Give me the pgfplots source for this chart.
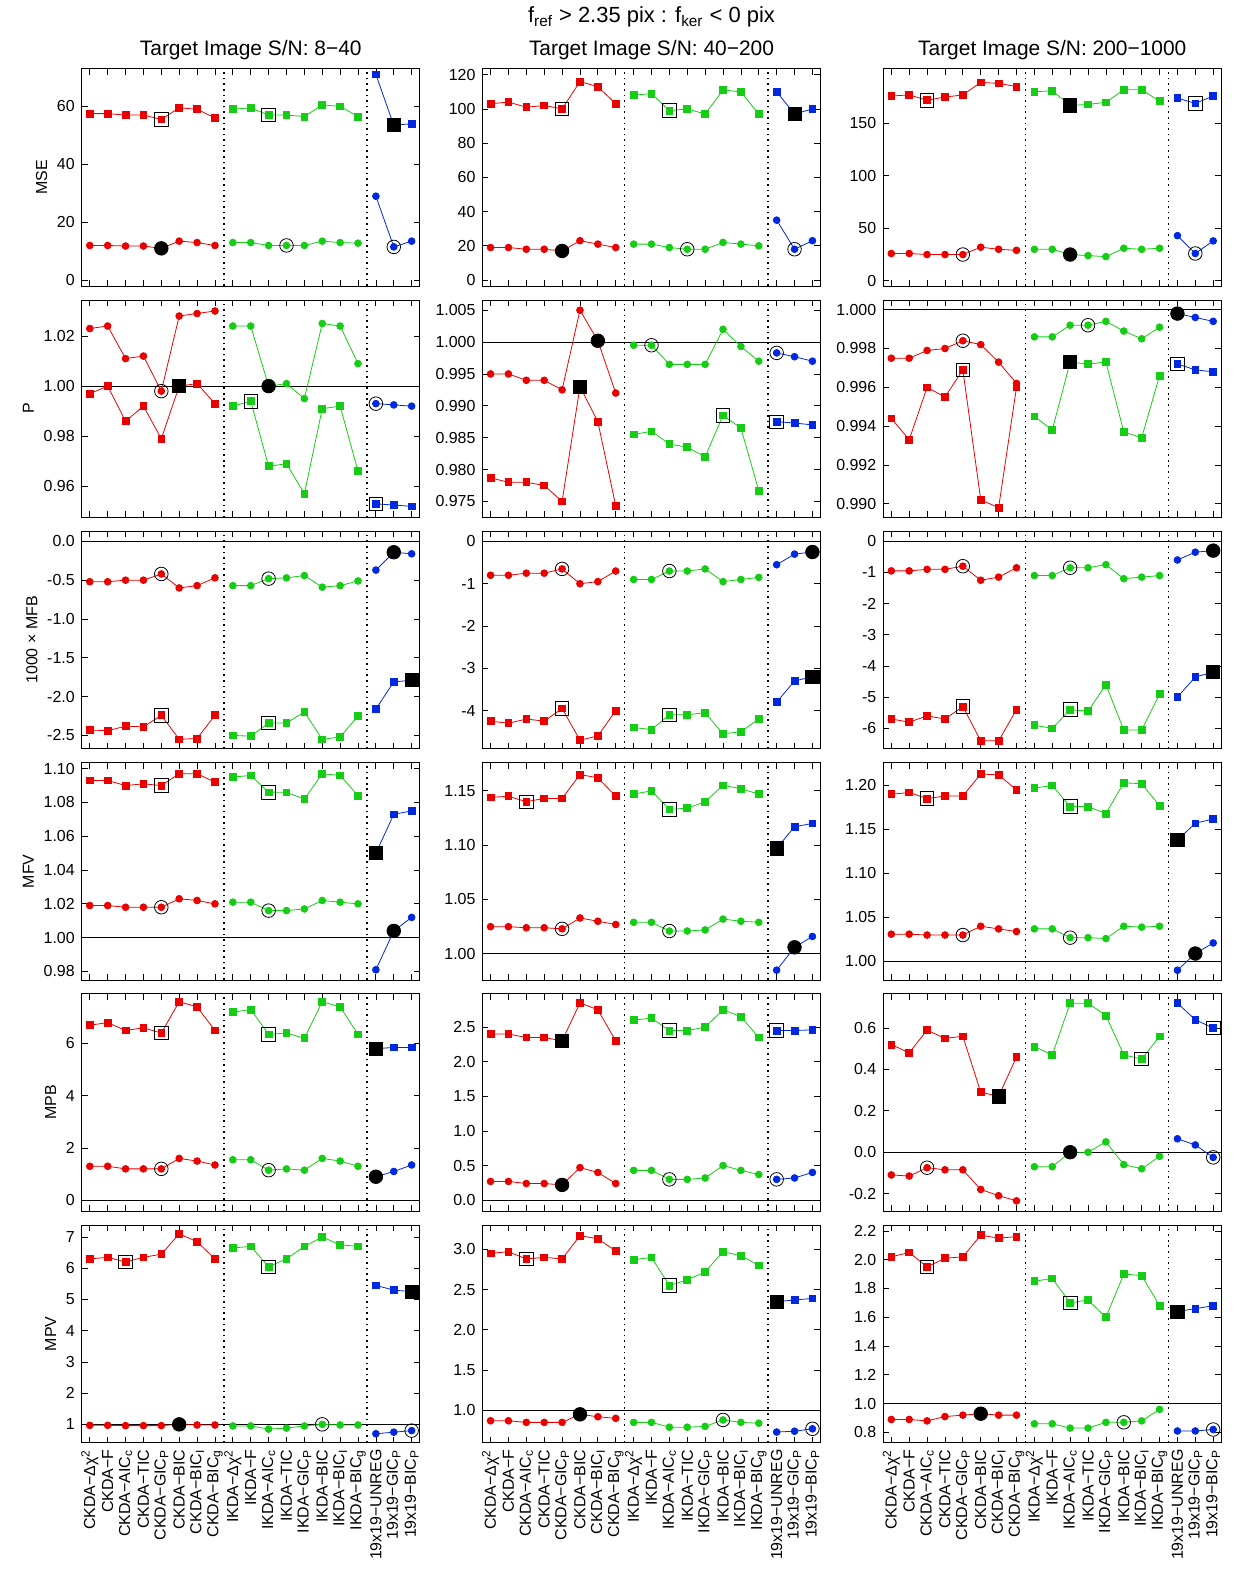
\documentclass[border=0pt]{standalone}
\usepackage{pgfplots}
\pgfplotsset{compat=1.18}
\usepackage{pgfplotstable}
\usepgfplotslibrary{groupplots}
\usepackage{fontspec}
\setmainfont{Liberation Sans}
\definecolor{cR}{RGB}{235,0,0}
\definecolor{cG}{RGB}{20,205,20}
\definecolor{cB}{RGB}{0,40,225}
\pgfplotsset{every axis/.append style={/pgf/number format/assume math mode=true},
 nf/.style={yticklabel style={/pgf/number format/.cd,fixed,fixed zerofill,precision=#1}}}
\newcommand\grp[1]{%
\addplot[cR,mark=square*,mark size=1.7pt,restrict x to domain=0:7] table[x expr=\coordindex,y=s]{#1};
\addplot[cR,mark=*,mark size=1.7pt,restrict x to domain=0:7] table[x expr=\coordindex,y=c]{#1};
\addplot[cG,mark=square*,mark size=1.7pt,restrict x to domain=8:15] table[x expr=\coordindex,y=s]{#1};
\addplot[cG,mark=*,mark size=1.7pt,restrict x to domain=8:15] table[x expr=\coordindex,y=c]{#1};
\addplot[cB,mark=square*,mark size=1.7pt,restrict x to domain=16:18] table[x expr=\coordindex,y=s]{#1};
\addplot[cB,mark=*,mark size=1.7pt,restrict x to domain=16:18] table[x expr=\coordindex,y=c]{#1};
\draw[dotted,thick] ({axis cs:7.5,0}|-{rel axis cs:0,0}) -- ({axis cs:7.5,0}|-{rel axis cs:0,1});
\draw[dotted,thick] ({axis cs:15.5,0}|-{rel axis cs:0,0}) -- ({axis cs:15.5,0}|-{rel axis cs:0,1});}
\newcommand\os[2]{\addplot[black,only marks,mark=square,mark size=3.4pt,mark options={thin}] coordinates {(#1,#2)};}
\newcommand\oc[2]{\addplot[black,only marks,mark=o,mark size=3.4pt,mark options={thin}] coordinates {(#1,#2)};}
\newcommand\bs[2]{\addplot[black,only marks,mark=square*,mark size=3.3pt] coordinates {(#1,#2)};}
\newcommand\bc[2]{\addplot[black,only marks,mark=*,mark size=3.4pt] coordinates {(#1,#2)};}
\newcommand\rl[1]{\draw[black] ({rel axis cs:0,0}|-{axis cs:0,#1}) -- ({rel axis cs:1,0}|-{axis cs:0,#1});}

\pgfplotstableread[row sep=\\]{s c\\57.5 12\\57.5 12\\57 11.8\\57 11.8\\55.5 11\\59.5 13.5\\59 13\\56 12\\59 13\\59.5 13\\57 12\\57 12\\56.5 12\\60.5 13.5\\60 13\\56.5 12.8\\71 29\\53.5 11.5\\54 13.5\\}\tAA
\pgfplotstableread[row sep=\\]{s c\\103 19\\104 19\\101 18\\102 18\\100 17\\116 23\\113 21\\103 19\\108 21\\109 21\\99 19\\100 18\\97 18\\111 22\\110 21\\97 20\\110 35\\97 18\\100 23\\}\tAB
\pgfplotstableread[row sep=\\]{s c\\176 26\\177 26\\172 25\\175 25\\177 25\\189 32\\188 30\\185 29\\180 30\\181 30\\167 25\\168 24\\170 23\\182 31\\182 30\\171 31\\174 43\\169 26\\176 38\\}\tAC
\pgfplotstableread[row sep=\\]{s c\\0.997 1.023\\1.000 1.024\\0.986 1.011\\0.992 1.012\\0.979 0.998\\1.000 1.028\\1.001 1.029\\0.993 1.030\\0.992 1.024\\0.994 1.024\\0.968 1.000\\0.969 1.001\\0.957 0.995\\0.991 1.025\\0.992 1.024\\0.966 1.009\\0.953 0.993\\0.9525 0.9925\\0.952 0.992\\}\tBA
\pgfplotstableread[row sep=\\]{s c\\0.9787 0.995\\0.978 0.995\\0.978 0.994\\0.9775 0.994\\0.975 0.9925\\0.993 1.005\\0.9875 1.0002\\0.9743 0.992\\0.9855 0.9995\\0.986 0.9995\\0.984 0.9965\\0.9835 0.9965\\0.982 0.9965\\0.9885 1.002\\0.9865 0.9993\\0.9767 0.997\\0.9875 0.9983\\0.9873 0.9977\\0.987 0.997\\}\tBB
\pgfplotstableread[row sep=\\]{s c\\0.9944 0.9975\\0.9933 0.9975\\0.996 0.9979\\0.9955 0.998\\0.9969 0.9984\\0.9902 0.9982\\0.9898 0.9973\\0.996 0.9962\\0.9945 0.9986\\0.9938 0.9986\\0.9973 0.9992\\0.9972 0.9992\\0.9973 0.9994\\0.9937 0.9989\\0.9934 0.9985\\0.9966 0.9991\\0.9972 0.9998\\0.9969 0.9996\\0.9968 0.9994\\}\tBC
\pgfplotstableread[row sep=\\]{s c\\-2.43 -0.52\\-2.44 -0.52\\-2.38 -0.5\\-2.39 -0.5\\-2.24 -0.42\\-2.55 -0.6\\-2.54 -0.57\\-2.24 -0.47\\-2.5 -0.57\\-2.51 -0.57\\-2.34 -0.48\\-2.34 -0.47\\-2.2 -0.44\\-2.55 -0.59\\-2.52 -0.57\\-2.25 -0.51\\-2.16 -0.37\\-1.81 -0.14\\-1.79 -0.16\\}\tCA
\pgfplotstableread[row sep=\\]{s c\\-4.25 -0.8\\-4.3 -0.8\\-4.2 -0.75\\-4.25 -0.75\\-3.95 -0.65\\-4.7 -1.0\\-4.6 -0.95\\-4.0 -0.7\\-4.4 -0.9\\-4.45 -0.9\\-4.1 -0.7\\-4.1 -0.7\\-4.05 -0.65\\-4.55 -0.95\\-4.5 -0.9\\-4.2 -0.85\\-3.8 -0.55\\-3.3 -0.3\\-3.2 -0.25\\}\tCB
\pgfplotstableread[row sep=\\]{s c\\-5.7 -0.95\\-5.8 -0.95\\-5.6 -0.9\\-5.7 -0.9\\-5.3 -0.8\\-6.4 -1.25\\-6.4 -1.15\\-5.4 -0.85\\-5.9 -1.1\\-6.0 -1.1\\-5.4 -0.85\\-5.45 -0.85\\-4.6 -0.75\\-6.05 -1.2\\-6.05 -1.15\\-4.9 -1.1\\-5.0 -0.6\\-4.35 -0.35\\-4.2 -0.3\\}\tCC
\pgfplotstableread[row sep=\\]{s c\\1.093 1.019\\1.093 1.019\\1.09 1.018\\1.091 1.018\\1.09 1.018\\1.097 1.023\\1.097 1.022\\1.092 1.02\\1.095 1.021\\1.096 1.021\\1.086 1.016\\1.086 1.016\\1.082 1.017\\1.097 1.022\\1.096 1.021\\1.084 1.02\\1.05 0.981\\1.073 1.004\\1.075 1.012\\}\tDA
\pgfplotstableread[row sep=\\]{s c\\1.144 1.025\\1.145 1.025\\1.14 1.024\\1.143 1.024\\1.143 1.023\\1.165 1.033\\1.162 1.03\\1.145 1.027\\1.147 1.029\\1.15 1.029\\1.133 1.021\\1.134 1.021\\1.14 1.022\\1.155 1.032\\1.152 1.03\\1.147 1.029\\1.097 0.985\\1.117 1.006\\1.12 1.016\\}\tDB
\pgfplotstableread[row sep=\\]{s c\\1.19 1.031\\1.192 1.031\\1.185 1.03\\1.188 1.03\\1.188 1.03\\1.213 1.04\\1.212 1.037\\1.195 1.034\\1.197 1.037\\1.2 1.037\\1.176 1.027\\1.176 1.027\\1.168 1.026\\1.203 1.04\\1.202 1.039\\1.177 1.04\\1.138 0.99\\1.157 1.009\\1.162 1.021\\}\tDC
\pgfplotstableread[row sep=\\]{s c\\6.7 1.3\\6.8 1.3\\6.5 1.2\\6.6 1.2\\6.4 1.2\\7.6 1.6\\7.4 1.5\\6.5 1.35\\7.2 1.55\\7.3 1.55\\6.35 1.15\\6.4 1.2\\6.2 1.15\\7.6 1.6\\7.4 1.5\\6.35 1.3\\5.8 0.9\\5.85 1.1\\5.85 1.35\\}\tEA
\pgfplotstableread[row sep=\\]{s c\\2.4 0.27\\2.4 0.27\\2.35 0.24\\2.35 0.24\\2.3 0.22\\2.85 0.47\\2.75 0.4\\2.3 0.24\\2.6 0.43\\2.63 0.43\\2.45 0.3\\2.45 0.3\\2.5 0.32\\2.75 0.5\\2.65 0.43\\2.35 0.37\\2.45 0.3\\2.45 0.32\\2.46 0.4\\}\tEB
\pgfplotstableread[row sep=\\]{s c\\0.52 -0.11\\0.48 -0.115\\0.59 -0.075\\0.55 -0.085\\0.56 -0.085\\0.29 -0.18\\0.27 -0.21\\0.46 -0.235\\0.51 -0.07\\0.47 -0.07\\0.72 0.0\\0.72 0.0\\0.66 0.05\\0.47 -0.06\\0.45 -0.08\\0.56 -0.02\\0.72 0.065\\0.64 0.035\\0.6 -0.025\\}\tEC
\pgfplotstableread[row sep=\\]{s c\\6.3 0.97\\6.35 0.97\\6.2 0.96\\6.35 0.96\\6.45 0.96\\7.1 1.0\\6.85 0.98\\6.3 0.98\\6.65 0.95\\6.7 0.95\\6.05 0.85\\6.3 0.88\\6.7 0.95\\7.0 1.0\\6.75 0.98\\6.7 0.98\\5.45 0.7\\5.3 0.75\\5.25 0.8\\}\tFA
\pgfplotstableread[row sep=\\]{s c\\2.95 0.87\\2.97 0.87\\2.88 0.85\\2.9 0.85\\2.88 0.85\\3.17 0.95\\3.13 0.92\\2.98 0.9\\2.87 0.85\\2.9 0.85\\2.55 0.79\\2.62 0.79\\2.72 0.8\\2.97 0.88\\2.92 0.85\\2.8 0.84\\2.35 0.73\\2.37 0.74\\2.39 0.77\\}\tFB
\pgfplotstableread[row sep=\\]{s c\\2.02 0.89\\2.05 0.89\\1.95 0.88\\2.01 0.91\\2.02 0.92\\2.17 0.93\\2.15 0.92\\2.16 0.92\\1.85 0.86\\1.87 0.86\\1.7 0.83\\1.72 0.83\\1.6 0.87\\1.9 0.87\\1.89 0.88\\1.68 0.96\\1.64 0.81\\1.66 0.81\\1.68 0.82\\}\tFC

\begin{document}
\begin{tikzpicture}
\begin{groupplot}[
 group style={group size=3 by 6, horizontal sep=31.5pt, vertical sep=7pt, xticklabels at=edge bottom},
 width=169.5pt, height=109pt, scale only axis,
 xmin=-0.45, xmax=18.45, xtick={0,...,18},
 xticklabels={CKDA−Δχ\textsuperscript{2},CKDA−F,CKDA−AIC\textsubscript{c},CKDA−TIC,CKDA−GIC\textsubscript{P},CKDA−BIC,CKDA−BIC\textsubscript{I},CKDA−BIC\textsubscript{g},IKDA−Δχ\textsuperscript{2},IKDA−F,IKDA−AIC\textsubscript{c},IKDA−TIC,IKDA−GIC\textsubscript{P},IKDA−BIC,IKDA−BIC\textsubscript{I},IKDA−BIC\textsubscript{g},19x19−UNREG,19x19−GIC\textsubscript{P},19x19−BIC\textsubscript{P}},
 xticklabel style={rotate=90,anchor=east,font=\fontsize{8}{10}\selectfont},
 yticklabel style={font=\fontsize{8}{10}\selectfont},
 tick align=inside, major tick length=3pt, tick style={black,thin},
 every axis plot/.append style={thin,mark options={solid}},
 title style={font=\fontsize{10.5}{12}\selectfont, yshift=-5pt},
 ylabel style={font=\fontsize{8}{10}\selectfont, yshift=-2pt},
]
\nextgroupplot[ymin=-2,ymax=73,ytick={0,20,40,60},ylabel=MSE,title={Target Image S/N: 8−40}]
\grp{\tAA}\os{4}{55.5}\bc{4}{11}\os{10}{57}\oc{11}{12}\bs{17}{53.5}\oc{17}{11.5}
\nextgroupplot[ymin=-3.5,ymax=123.5,ytick={0,20,...,120},title={Target Image S/N: 40−200}]
\grp{\tAB}\os{4}{100}\bc{4}{17}\os{10}{99}\oc{11}{18}\bs{17}{97}\oc{17}{18}
\nextgroupplot[ymin=-5,ymax=202,ytick={0,50,100,150},title={Target Image S/N: 200−1000}]
\grp{\tAC}\os{2}{172}\oc{4}{25}\bs{10}{167}\bc{10}{25}\os{17}{169}\oc{17}{26}

\nextgroupplot[ymin=0.9476,ymax=1.0344,ytick={0.96,0.98,1.00,1.02},nf=2,ylabel=P]
\rl{1}\grp{\tBA}\oc{4}{0.998}\bs{5}{1.000}\os{9}{0.994}\bc{10}{1.000}\oc{16}{0.993}\os{16}{0.953}
\nextgroupplot[ymin=0.9725,ymax=1.0066,ytick={0.975,0.980,0.985,0.990,0.995,1.000,1.005},nf=3]
\rl{1}\grp{\tBB}\bs{5}{0.993}\bc{6}{1.0002}\oc{9}{0.9995}\os{13}{0.9885}\oc{16}{0.9983}\os{16}{0.9875}
\nextgroupplot[ymin=0.9893,ymax=1.0005,ytick={0.990,0.992,0.994,0.996,0.998,1.000},nf=3]
\rl{1}\grp{\tBC}\oc{4}{0.9984}\os{4}{0.9969}\bs{10}{0.9973}\oc{11}{0.9992}\bc{16}{0.9998}\os{16}{0.9972}

\nextgroupplot[ymin=-2.67,ymax=0.13,ytick={-2.5,-2,-1.5,-1,-0.5,0},nf=1,ylabel={1000 × MFB}]
\rl{0}\grp{\tCA}\oc{4}{-0.42}\os{4}{-2.24}\oc{10}{-0.48}\os{10}{-2.34}\bc{17}{-0.14}\bs{18}{-1.79}
\nextgroupplot[ymin=-4.9,ymax=0.24,ytick={-4,-3,-2,-1,0}]
\rl{0}\grp{\tCB}\oc{4}{-0.65}\os{4}{-3.95}\oc{10}{-0.7}\os{10}{-4.1}\bc{18}{-0.25}\bs{18}{-3.2}
\nextgroupplot[ymin=-6.65,ymax=0.32,ytick={-6,-5,-4,-3,-2,-1,0}]
\rl{0}\grp{\tCC}\oc{4}{-0.8}\os{4}{-5.3}\oc{10}{-0.85}\os{10}{-5.4}\bc{18}{-0.3}\bs{18}{-4.2}

\nextgroupplot[ymin=0.975,ymax=1.1036,ytick={0.98,1.00,1.02,1.04,1.06,1.08,1.10},nf=2,ylabel=MFV]
\rl{1}\grp{\tDA}\os{4}{1.09}\oc{4}{1.018}\os{10}{1.086}\oc{10}{1.016}\bs{16}{1.05}\bc{17}{1.004}
\nextgroupplot[ymin=0.976,ymax=1.176,ytick={1.00,1.05,1.10,1.15},nf=2]
\rl{1}\grp{\tDB}\os{2}{1.14}\oc{4}{1.023}\os{10}{1.133}\oc{10}{1.021}\bs{16}{1.097}\bc{17}{1.006}
\nextgroupplot[ymin=0.979,ymax=1.226,ytick={1.00,1.05,1.10,1.15,1.20},nf=2]
\rl{1}\grp{\tDC}\os{2}{1.185}\oc{4}{1.03}\os{10}{1.176}\oc{10}{1.027}\bs{16}{1.138}\bc{17}{1.009}

\nextgroupplot[ymin=-0.42,ymax=7.9,ytick={0,2,4,6},ylabel=MPB]
\rl{0}\grp{\tEA}\os{4}{6.4}\oc{4}{1.2}\os{10}{6.35}\oc{10}{1.15}\bs{16}{5.8}\bc{16}{0.9}
\nextgroupplot[ymin=-0.16,ymax=2.98,ytick={0,0.5,1,1.5,2,2.5},nf=1]
\rl{0}\grp{\tEB}\bs{4}{2.3}\bc{4}{0.22}\os{10}{2.45}\oc{10}{0.3}\os{16}{2.45}\oc{16}{0.3}
\nextgroupplot[ymin=-0.285,ymax=0.765,ytick={-0.2,0,0.2,0.4,0.6},nf=1]
\rl{0}\grp{\tEC}\bs{6}{0.27}\oc{2}{-0.075}\os{14}{0.45}\bc{10}{0.0}\os{18}{0.6}\oc{18}{-0.025}

\nextgroupplot[ymin=0.42,ymax=7.38,ytick={1,...,7},ylabel=MPV]
\rl{1}\grp{\tFA}\os{2}{6.2}\bc{5}{1.0}\os{10}{6.05}\oc{13}{1.0}\bs{18}{5.25}\oc{18}{0.8}
\nextgroupplot[ymin=0.6,ymax=3.3,ytick={1,1.5,2,2.5,3},nf=1]
\rl{1}\grp{\tFB}\os{2}{2.88}\bc{5}{0.95}\os{10}{2.55}\oc{13}{0.88}\bs{16}{2.35}\oc{18}{0.77}
\nextgroupplot[ymin=0.73,ymax=2.24,ytick={0.8,1.0,1.2,1.4,1.6,1.8,2.0,2.2},nf=1]
\rl{1}\grp{\tFC}\os{2}{1.95}\bc{5}{0.93}\os{10}{1.7}\oc{13}{0.87}\bs{16}{1.64}\oc{18}{0.82}
\end{groupplot}
\node[font=\fontsize{11}{13}\selectfont] at ([yshift=26pt]group c2r1.north) {f\textsubscript{ref} > 2.35 pix : f\textsubscript{ker} < 0 pix};
\path ([xshift=-41pt,yshift=34pt]group c1r1.north west) rectangle ([xshift=17pt,yshift=-76.5pt]group c3r6.south east);
\end{tikzpicture}
\end{document}
